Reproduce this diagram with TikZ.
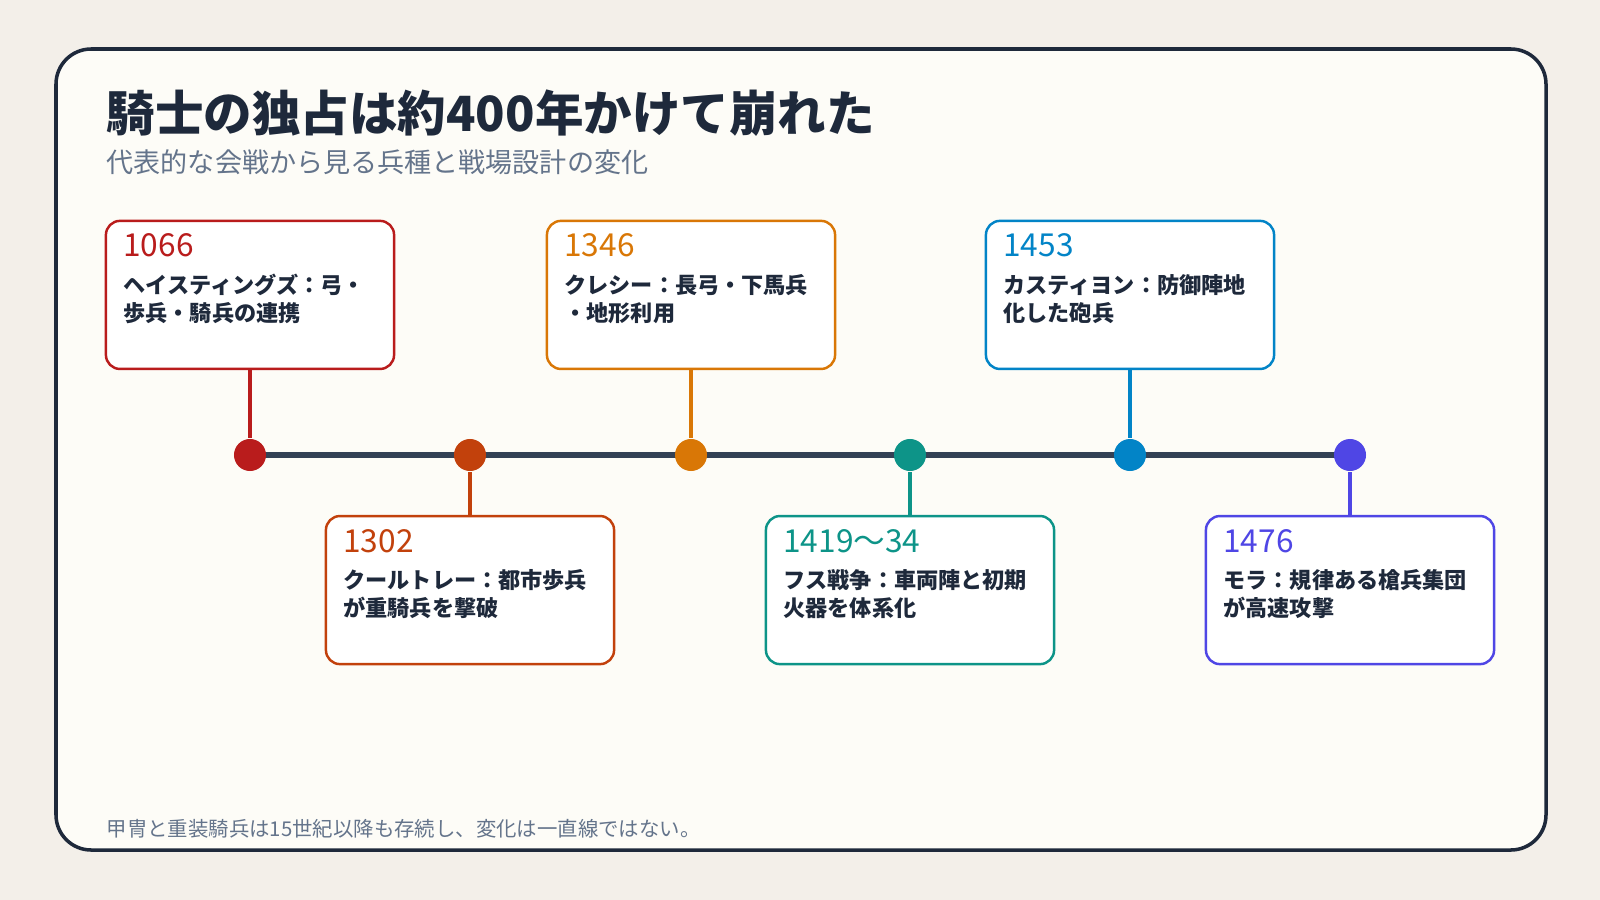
\documentclass[tikz,border=0pt]{standalone}
\usepackage{fontspec}
\setmainfont{Noto Sans CJK JP}
\usetikzlibrary{positioning}
\definecolor{bg}{HTML}{F3EFE9}
\definecolor{card}{HTML}{FDFCF7}
\definecolor{ink}{HTML}{1E293B}
\definecolor{muted}{HTML}{64748B}
\definecolor{axis}{HTML}{334155}
\definecolor{cA}{HTML}{B91C1C}
\definecolor{cB}{HTML}{C2410C}
\definecolor{cC}{HTML}{D97706}
\definecolor{cD}{HTML}{0D9488}
\definecolor{cE}{HTML}{0284C7}
\definecolor{cF}{HTML}{4F46E5}
\tikzset{
  box/.style={draw=#1,line width=0.7pt,rounded corners=4pt,fill=white,
    minimum width=2.88cm,minimum height=1.48cm},
  dot/.style={circle,fill=#1,inner sep=0pt,minimum size=0.32cm},
  year/.style={anchor=west,inner sep=0pt,text=#1,font=\fontsize{9}{11}\selectfont},
  body/.style={anchor=north west,inner sep=0pt,align=left,text=ink,font=\bfseries\fontsize{6.3}{8}\selectfont},
}
\begin{document}
\begin{tikzpicture}[x=0.01cm,y=-0.01cm]
        \fill[bg] (0,0) rectangle (1600,900);
        \draw[fill=card,draw=ink,line width=1pt,rounded corners=10pt] (56,49) rectangle (1546,850);
        \node[anchor=base west,inner sep=0pt,text=ink,font=\bfseries\fontsize{13.8}{16}\selectfont] (title) at (106,131) {騎士の独占は約400年かけて崩れた};
        \node[anchor=base west,inner sep=0pt,text=muted,font=\fontsize{7.7}{9}\selectfont] (sub) at (106,172) {代表的な会戦から見る兵種と戦場設計の変化};
        \node[anchor=base west,inner sep=0pt,text=muted,font=\fontsize{5.8}{7}\selectfont] (note) at (106,836) {甲冑と重装騎兵は15世紀以降も存続し、変化は一直線ではない。};
        % timeline
        \draw[axis,line width=1.8pt] (250,455)--(1350,455);
        \foreach \x/\c/\n in {250/cA/a,470/cB/b,691/cC/c,910/cD/d,1130/cE/e,1350/cF/f}
          \node[dot=\c] (d\n) at (\x,455) {};
        % upper cards
        \foreach \n/\c/\yr/\txt in {a/cA/1066/{ヘイスティングズ：弓・\\歩兵・騎兵の連携},
                                    c/cC/1346/{クレシー：長弓・下馬兵\\・地形利用},
                                    e/cE/1453/{カスティヨン：防御陣地\\化した砲兵}}{
          \node[box=\c] (b\n) at ([yshift=1.6cm]d\n) {};
          \draw[\c,line width=1.1pt] (b\n.south)--(d\n.north);
          \node[year=\c] at ([xshift=0.18cm,yshift=-0.26cm]b\n.north west) {\yr};
          \node[body] at ([xshift=0.18cm,yshift=-0.54cm]b\n.north west) {\txt};
        }
        % lower cards
        \foreach \n/\c/\yr/\txt in {b/cB/1302/{クールトレー：都市歩兵\\が重騎兵を撃破},
                                    d/cD/1419〜34/{フス戦争：車両陣と初期\\火器を体系化},
                                    f/cF/1476/{モラ：規律ある槍兵集団\\が高速攻撃}}{
          \node[box=\c] (b\n) at ([yshift=-1.35cm]d\n) {};
          \draw[\c,line width=1.1pt] (b\n.north)--(d\n.south);
          \node[year=\c] at ([xshift=0.18cm,yshift=-0.26cm]b\n.north west) {\yr};
          \node[body] at ([xshift=0.18cm,yshift=-0.54cm]b\n.north west) {\txt};
        }
      \end{tikzpicture}
\end{document}
